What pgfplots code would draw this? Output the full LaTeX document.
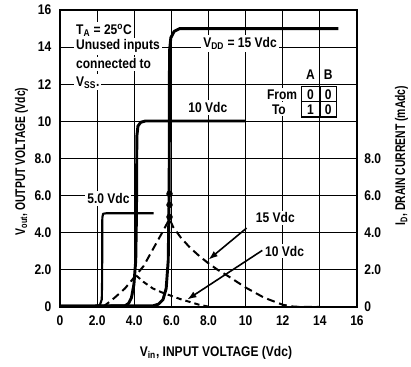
\documentclass[border=0pt]{standalone}
\usepackage{fontspec}
\setmainfont{Liberation Sans Bold}[FakeStretch=0.86]
\newfontfamily\ylabfont{Liberation Sans Bold}[FakeStretch=0.74]
\usepackage{pgfplots}
\pgfplotsset{compat=1.18}
\usetikzlibrary{arrows.meta}

\newcommand{\lbl}{\fontsize{10.5}{12.5}\selectfont}

% transfer curves Vout vs Vin
\pgfplotstableread{
x y
0 0.05
1.9 0.05
2.15 0.1
2.25 0.4
2.27 1.5
2.28 4.8
2.32 5.02
2.5 5.05
5.05 5.05
}\fivev
\pgfplotstableread{
x y
0 0.05
3.5 0.06
3.7 0.2
3.85 0.5
3.98 1.2
4.08 2.5
4.12 5
4.14 9.2
4.2 9.75
4.35 9.95
4.6 10.02
10 10.02
}\tenv
\pgfplotstableread{
x y
0 0.05
5.0 0.06
5.3 0.15
5.55 0.4
5.72 1.0
5.83 2.5
5.88 6
5.9 13.8
5.97 14.5
6.15 14.85
6.45 15.0
15 15.0
}\fifteenv
% drain current curves
\pgfplotstableread{
x y
2.3 0
2.7 0.3
3.0 0.55
3.5 1.0
4.0 1.6
4.5 2.2
5.0 3.1
5.5 4.0
5.9 4.75
6.1 4.3
6.5 3.75
7.0 3.2
7.5 2.75
8.0 2.35
8.5 2.0
9.0 1.7
10.0 1.05
11.0 0.5
12.0 0.12
12.5 0.03
13.0 0
14.0 0
}\idfifteen
\pgfplotstableread{
x y
4.1 1.7
4.5 1.35
5.0 1.0
5.5 0.78
6.0 0.6
6.5 0.42
7.0 0.27
7.5 0.12
8.0 0.02
}\idten

\begin{document}
\begin{tikzpicture}
\begin{axis}[
    width=222.75pt, height=222.75pt, scale only axis,
    xmin=0, xmax=16, ymin=0, ymax=16,
    xtick={0,2,...,16}, ytick={0,2,...,16},
    xticklabels={0,2.0,4.0,6.0,8.0,10,12,14,16},
    yticklabels={0,2.0,4.0,6.0,8.0,10,12,14,16},
    major tick length=0pt,
    grid=major, grid style={black, line width=0.6pt},
    axis line style={line width=1.1pt},
    tick label style={font=\lbl},
    xticklabel style={yshift=-3pt},
    yticklabel style={xshift=-3pt},
    xlabel={V\textsubscript{in}, INPUT VOLTAGE (Vdc)},
    xlabel style={font=\lbl, at={(axis description cs:0.525,-0.155)}, anchor=center},
    ylabel={V\textsubscript{out}, OUTPUT VOLTAGE (Vdc)},
    ylabel style={font=\lbl\ylabfont, at={(axis description cs:-0.13,0.49)}, anchor=center},
    clip=false,
]
\coordinate (sw) at (rel axis cs:0,0);
\coordinate (ne) at (rel axis cs:1,1);

% text boxes that break the grid
\node[anchor=west, fill=white, inner sep=1.5pt, font=\lbl] at (axis cs:0.75,14.9) {T\textsubscript{A} = 25\textsuperscript{o}C};
\node[anchor=west, fill=white, inner sep=1.5pt, font=\lbl] at (axis cs:0.75,14.05) {Unused inputs};
\node[anchor=west, fill=white, inner sep=1.5pt, font=\lbl] at (axis cs:0.75,13.1) {connected to};
\node[anchor=west, fill=white, inner sep=1.5pt, font=\lbl] at (axis cs:0.75,12.1) {V\textsubscript{SS}.};
\node[anchor=west, fill=white, inner sep=1.5pt, font=\lbl] at (axis cs:7.6,14.2) {V\textsubscript{DD} = 15 Vdc};
\node[anchor=west, fill=white, inner sep=1.5pt, font=\lbl] at (axis cs:6.8,10.75) {10 Vdc};
\node[anchor=west, fill=white, inner sep=1.5pt, font=\lbl] at (axis cs:1.35,5.85) {5.0 Vdc};
\node[fill=white, inner sep=1.5pt, font=\lbl] at (axis cs:11.6,4.8) {15 Vdc};
\node[fill=white, inner sep=1.5pt, font=\lbl] at (axis cs:12.1,3.0) {10 Vdc};

% truth table
\node[font=\lbl] at (axis cs:13.5,12.5) {A};
\node[font=\lbl] at (axis cs:14.45,12.5) {B};
\node[anchor=east, fill=white, inner sep=1.5pt, font=\lbl] at (axis cs:12.9,11.45) {From};
\node[anchor=west, fill=white, inner sep=1.5pt, font=\lbl] at (axis cs:11.3,10.65) {To};
\draw[line width=1.2pt, fill=white] (axis cs:13.02,10.25) rectangle (axis cs:14.9,11.87);
\draw[line width=1.2pt] (axis cs:13.02,11.06) -- (axis cs:14.9,11.06);
\draw[line width=1.2pt] (axis cs:14.0,10.25) -- (axis cs:14.0,11.87);
\node[font=\lbl] at (axis cs:13.5,11.45) {0};
\node[font=\lbl] at (axis cs:14.45,11.45) {0};
\node[font=\lbl] at (axis cs:13.5,10.65) {1};
\node[font=\lbl] at (axis cs:14.45,10.65) {0};

% curves
\addplot[black, line width=1.6pt, line join=round] table {\fivev};
\addplot[black, line width=2.2pt, line join=round] table {\tenv};
\addplot[black, line width=2.2pt, line join=round] table {\fifteenv};
\addplot[black, line width=1.5pt, dash pattern=on 6pt off 3.5pt, line join=round] table {\idfifteen};
\addplot[black, line width=1.5pt, dash pattern=on 4pt off 3pt, line join=round] table {\idten};
\addplot[black, only marks, mark=*, mark size=2.2pt] coordinates {(5.9,4.85) (5.9,5.5) (5.9,6.1)};

% arrows to the current curves
\draw[line width=1.2pt, -{Latex[length=7pt,width=5pt]}] (axis cs:10.05,4.25) -- (axis cs:8.0,2.55);
\draw[line width=1.2pt, -{Latex[length=7pt,width=5pt]}] (axis cs:10.9,3.05) -- (axis cs:6.85,0.4);
\end{axis}

% right-hand drain current scale
\begin{axis}[
    width=222.75pt, height=222.75pt, scale only axis,
    xmin=0, xmax=16, ymin=0, ymax=16,
    hide x axis, axis y line*=right,
    ytick={0,2,4,6,8}, yticklabels={0,2.0,4.0,6.0,8.0},
    major tick length=0pt,
    axis line style={line width=1.1pt},
    tick label style={font=\lbl},
    yticklabel style={xshift=2pt},
    ylabel={I\textsubscript{D}, DRAIN CURRENT (mAdc)},
    ylabel style={font=\lbl\ylabfont, at={(axis description cs:1.15,0.51)}, anchor=center},
]
\end{axis}

\pgfresetboundingbox
\path[use as bounding box] ([shift={(-45pt,-45pt)}]sw) rectangle ([shift={(40.5pt,7.5pt)}]ne);
\end{tikzpicture}
\end{document}
